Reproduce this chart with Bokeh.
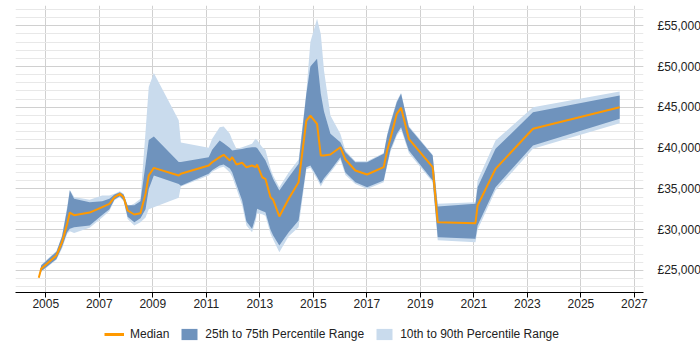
from bokeh.plotting import figure
from bokeh.layouts import column
from bokeh.models import (ColumnDataSource, Range1d, FixedTicker, SingleIntervalTicker,
                          Legend, LegendItem)
from bokeh.embed import file_html
from bokeh.resources import INLINE

# Salary percentiles over time (decimal years)
dates = [2004.74, 2004.83, 2005.40, 2005.61, 2005.80, 2005.90, 2006.06, 2006.64, 2007.11,
         2007.38, 2007.57, 2007.77, 2007.91, 2008.06, 2008.31, 2008.54, 2008.73, 2008.85,
         2009.04, 2009.97, 2010.05, 2011.09, 2011.22, 2011.50, 2011.65, 2011.88, 2011.97,
         2012.13, 2012.34, 2012.50, 2012.71, 2012.84, 2012.90, 2013.09, 2013.21, 2013.40,
         2013.50, 2013.73, 2014.08, 2014.45, 2014.74, 2014.89, 2015.14, 2015.28, 2015.40,
         2015.64, 2016.01, 2016.20, 2016.57, 2017.01, 2017.63, 2017.76, 2017.88, 2018.12,
         2018.28, 2018.57, 2019.46, 2019.65, 2021.06, 2021.14, 2021.81, 2023.21, 2026.45]

median = [24100, 25200, 26840, 28470, 30720, 32100, 31780, 32100, 32760,
          33170, 33980, 34400, 33980, 32350, 31860, 32020, 34400, 36640,
          37580, 36640, 36850, 37870, 38270, 38900, 39180, 38480, 38890,
          38000, 38200, 37660, 37870, 37660, 37990, 36430, 36240, 33980,
          33660, 31620, 33790, 35820, 43380, 43990, 42980, 39090, 39100,
          39220, 40110, 38600, 37250, 36760, 37660, 39710, 41140, 44200,
          44940, 41140, 37660, 30920, 30800, 32970, 37460, 42370, 45010]

p25 = [24100, 24900, 26400, 27900, 29700, 30100, 30300, 30510, 31800,
       32500, 33700, 34100, 33600, 31600, 30920, 31400, 32500, 35000,
       36640, 35600, 35400, 36850, 37300, 37870, 38000, 37500, 37000,
       35500, 33580, 31000, 30110, 31500, 32560, 32300, 32150, 30000,
       29300, 28060, 29690, 31130, 37660, 37870, 36500, 35620, 36300,
       37250, 38890, 37000, 35820, 35210, 36030, 38000, 39800, 41750,
       42560, 39710, 36030, 29080, 28880, 30500, 35210, 40320, 43590]

p75 = [24100, 25600, 27300, 29200, 32500, 34800, 33800, 33370, 33500,
       33800, 34300, 34600, 34300, 33000, 33000, 33500, 38000, 41000,
       41420, 38300, 38300, 38890, 39800, 40930, 40600, 40000, 39700,
       39800, 39900, 40000, 40110, 40110, 40000, 39090, 38500, 37050,
       36200, 34800, 36430, 38070, 46650, 50000, 50940, 46650, 44500,
       41750, 40720, 39500, 38270, 38270, 39300, 41500, 43000, 45630,
       46650, 42560, 39090, 32840, 33170, 35210, 39910, 44400, 46440]

p10 = [24100, 24800, 26300, 27700, 29500, 29800, 29600, 30230, 31500,
       32300, 33600, 34000, 33500, 31300, 30510, 30900, 31500, 32500,
       32760, 33900, 35300, 36640, 37100, 37600, 37700, 37000, 36500,
       35000, 33000, 30500, 29690, 31000, 32000, 31900, 31700, 29500,
       28800, 27240, 29200, 30310, 37400, 37600, 36200, 35300, 36000,
       37000, 38600, 36700, 35600, 35000, 35800, 37800, 39500, 41500,
       42300, 39400, 35800, 28700, 28470, 30000, 34800, 39910, 43050]

p90 = [24100, 25700, 27400, 29300, 32800, 34900, 34000, 33660, 34200,
       34200, 34400, 34700, 34400, 32800, 33200, 33800, 42000, 47500,
       49200, 43400, 40700, 40040, 41140, 42560, 42650, 41750, 41000,
       39900, 40100, 40300, 40530, 41140, 41000, 40100, 39800, 37500,
       36600, 35210, 37000, 38600, 46850, 53000, 55850, 54000, 49510,
       43990, 41750, 39710, 38400, 38400, 39400, 41700, 43200, 45800,
       46800, 42700, 39200, 33170, 33370, 36030, 40930, 45010, 46940]

year_ticks = [2005, 2007, 2009, 2011, 2013, 2015, 2017, 2019, 2021, 2023, 2025, 2027]
salary_ticks = [25000, 30000, 35000, 40000, 45000, 50000, 55000]
salary_labels = ["£25,000", "£30,000", "£35,000", "£40,000", "£45,000", "£50,000", "£55,000"]
series_names = ["Median", "25th to 75th Percentile Range", "10th to 90th Percentile Range"]

MEDIAN_COLOR = "#ff9900"
IQR_COLOR = "#6f93bd"
DECILE_COLOR = "#c9dbed"
FONT = "Liberation Sans"

src = ColumnDataSource(dict(x=dates, med=median, p25=p25, p75=p75, p10=p10, p90=p90))

p = figure(frame_width=628, frame_height=287, output_backend="svg", toolbar_location=None,
           x_range=Range1d(2003.87, 2027.34), y_range=Range1d(22300, 57480),
           y_axis_location="right",
           min_border_left=15, min_border_right=57, min_border_top=5, min_border_bottom=28)
p.outline_line_color = None

r_dec = p.varea(x="x", y1="p10", y2="p90", source=src, fill_color=DECILE_COLOR)
r_iqr = p.varea(x="x", y1="p25", y2="p75", source=src, fill_color=IQR_COLOR)
r_med = p.line(x="x", y="med", source=src, line_color=MEDIAN_COLOR, line_width=2)

# x axis: odd years
p.xaxis.ticker = FixedTicker(ticks=year_ticks)
p.xaxis.axis_line_color = "#000000"
p.xaxis.major_tick_line_color = "#000000"
p.xaxis.major_tick_out = 5
p.xaxis.major_tick_in = 0
p.xaxis.minor_tick_line_color = None
p.xaxis.major_label_text_font = FONT
p.xaxis.major_label_text_font_size = "12px"
p.xaxis.major_label_text_color = "#222222"
p.xaxis.major_label_standoff = 1

# y axis on the right, pound labels
p.yaxis.ticker = SingleIntervalTicker(interval=5000, num_minor_ticks=5)
p.yaxis.major_label_overrides = dict(zip(salary_ticks, salary_labels))
p.yaxis.axis_line_color = None
p.yaxis.major_tick_line_color = None
p.yaxis.minor_tick_line_color = None
p.yaxis.major_label_text_font = FONT
p.yaxis.major_label_text_font_size = "12px"
p.yaxis.major_label_text_color = "#222222"
p.yaxis.major_label_standoff = 8

p.xgrid.grid_line_color = "#d0d0d0"
p.ygrid.grid_line_color = "#d0d0d0"
p.ygrid.minor_grid_line_color = "#e8e8e8"

# legend strip under the chart; it reuses the chart's data source, but its
# ranges keep those renderers out of view so only the legend swatches show
leg = figure(width=700, height=30, output_backend="svg", toolbar_location=None,
             x_range=Range1d(0, 1), y_range=Range1d(0, 1),
             x_axis_location=None, y_axis_location=None,
             min_border=0)
leg.outline_line_color = None
leg.xgrid.visible = False
leg.ygrid.visible = False
s_med = leg.line(x="x", y="med", source=src, line_color=MEDIAN_COLOR, line_width=3)
s_iqr = leg.varea(x="x", y1="p25", y2="p75", source=src, fill_color=IQR_COLOR)
s_dec = leg.varea(x="x", y1="p10", y2="p90", source=src, fill_color=DECILE_COLOR)

legend = Legend(items=[
    LegendItem(label=series_names[0], renderers=[s_med]),
    LegendItem(label=series_names[1], renderers=[s_iqr]),
    LegendItem(label=series_names[2], renderers=[s_dec]),
], orientation="horizontal", location=(89, 9))
legend.border_line_color = None
legend.background_fill_alpha = 0
legend.label_text_font = FONT
legend.label_text_font_size = "12px"
legend.label_text_color = "#222222"
legend.glyph_width = 20
legend.glyph_height = 14
legend.label_standoff = 6
legend.spacing = 10
legend.padding = 0
legend.margin = 0
leg.add_layout(legend, "center")

open("out.html", "w").write(file_html(column(p, leg, spacing=0), INLINE))
